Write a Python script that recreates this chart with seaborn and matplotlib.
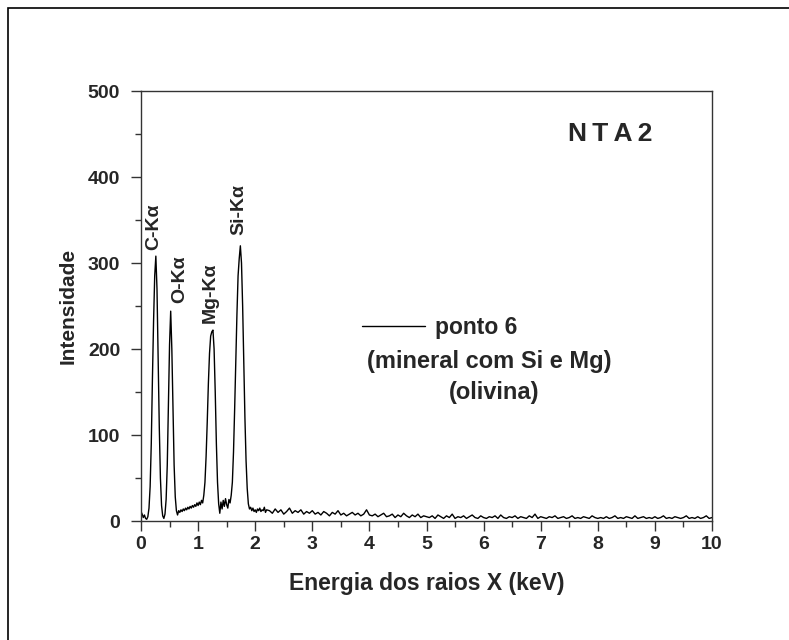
import numpy as np
import pandas as pd
import matplotlib
matplotlib.use("Agg")
import matplotlib.pyplot as plt
import seaborn as sns
from matplotlib.ticker import MultipleLocator
from matplotlib.patches import Rectangle

# ---------------- data ----------------
energy_low = [
    0.00, 0.02, 0.04, 0.06, 0.08, 0.10, 0.12, 0.14, 0.16, 0.18,
    0.20, 0.22, 0.24, 0.26, 0.28, 0.30, 0.32, 0.34, 0.36, 0.38,
    0.40, 0.42, 0.44, 0.46, 0.48, 0.50, 0.52, 0.54, 0.56, 0.58,
    0.60, 0.62, 0.64, 0.66, 0.68, 0.70, 0.72, 0.74, 0.76, 0.78,
    0.80, 0.82, 0.84, 0.86, 0.88, 0.90, 0.92, 0.94, 0.96, 0.98,
    1.00, 1.02, 1.04, 1.06, 1.08, 1.10, 1.12, 1.14, 1.16, 1.18,
    1.20, 1.22, 1.24, 1.26, 1.28, 1.30, 1.32, 1.34, 1.36, 1.38,
    1.40, 1.42, 1.44, 1.46, 1.48, 1.50, 1.52, 1.54, 1.56, 1.58,
    1.60, 1.62, 1.64, 1.66, 1.68, 1.70, 1.72, 1.74, 1.76, 1.78,
    1.80, 1.82, 1.84, 1.86, 1.88, 1.90, 1.92, 1.94, 1.96, 1.98,
    2.00, 2.02, 2.04, 2.06, 2.08, 2.10, 2.12, 2.14, 2.16, 2.18,
    2.20,
]
intensity_low = [
    11, 8, 4, 7, 3, 2, 5, 15, 40, 90,
    165, 232, 285, 308, 270, 190, 110, 50, 18, 6,
    3, 8, 25, 65, 135, 205, 244, 200, 130, 65,
    28, 12, 7, 12, 10, 13, 11, 14, 12, 15,
    13, 16, 14, 17, 15, 18, 16, 19, 17, 21,
    18, 22, 19, 24, 21, 30, 45, 75, 115, 160,
    195, 215, 220, 222, 200, 150, 90, 45, 20, 9,
    22, 14, 24, 17, 26, 19, 15, 25, 21, 30,
    45, 80, 130, 185, 240, 285, 305, 320, 300, 250,
    185, 120, 70, 38, 20, 14, 16, 12, 15, 11,
    13, 10, 14, 12, 15, 11, 13, 12, 16, 10,
    13,
]
energy_high = [
    2.25, 2.30, 2.35, 2.40, 2.45, 2.50, 2.55, 2.60, 2.65, 2.70, 2.75, 2.80, 2.85, 2.90, 2.95, 3.00,
    3.05, 3.10, 3.15, 3.20, 3.25, 3.30, 3.35, 3.40, 3.45, 3.50, 3.55, 3.60, 3.65, 3.70, 3.75, 3.80, 3.85, 3.90, 3.95, 4.00,
    4.05, 4.10, 4.15, 4.20, 4.25, 4.30, 4.35, 4.40, 4.45, 4.50, 4.55, 4.60, 4.65, 4.70, 4.75, 4.80, 4.85, 4.90, 4.95, 5.00,
    5.05, 5.10, 5.15, 5.20, 5.25, 5.30, 5.35, 5.40, 5.45, 5.50, 5.55, 5.60, 5.65, 5.70, 5.75, 5.80, 5.85, 5.90, 5.95, 6.00,
    6.05, 6.10, 6.15, 6.20, 6.25, 6.30, 6.35, 6.40, 6.45, 6.50, 6.55, 6.60, 6.65, 6.70, 6.75, 6.80, 6.85, 6.90, 6.95, 7.00,
    7.05, 7.10, 7.15, 7.20, 7.25, 7.30, 7.35, 7.40, 7.45, 7.50, 7.55, 7.60, 7.65, 7.70, 7.75, 7.80, 7.85, 7.90, 7.95, 8.00,
    8.05, 8.10, 8.15, 8.20, 8.25, 8.30, 8.35, 8.40, 8.45, 8.50, 8.55, 8.60, 8.65, 8.70, 8.75, 8.80, 8.85, 8.90, 8.95, 9.00,
    9.05, 9.10, 9.15, 9.20, 9.25, 9.30, 9.35, 9.40, 9.45, 9.50, 9.55, 9.60, 9.65, 9.70, 9.75, 9.80, 9.85, 9.90, 9.95, 10.00,
]
intensity_high = [
    12, 9, 14, 10, 13, 8, 11, 15, 9, 12, 10, 13, 8, 11, 9, 12,
    8, 10, 7, 11, 9, 6, 10, 8, 12, 7, 9, 6, 8, 10, 7, 9, 6, 8, 13, 7,
    6, 8, 5, 7, 9, 5, 6, 8, 4, 7, 5, 9, 6, 4, 7, 5, 8, 4, 6, 5,
    4, 6, 3, 7, 5, 3, 6, 4, 8, 3, 5, 4, 6, 3, 5, 7, 4, 3, 6, 4,
    3, 5, 4, 6, 3, 7, 4, 3, 5, 4, 6, 3, 5, 4, 3, 6, 4, 8, 3, 5,
    4, 3, 5, 4, 6, 3, 4, 5, 3, 4, 6, 3, 4, 3, 5, 4, 3, 6, 4, 3,
    4, 3, 5, 3, 4, 6, 3, 4, 3, 5, 4, 3, 6, 3, 4, 5, 3, 4, 3, 5,
    3, 4, 6, 3, 4, 3, 5, 4, 3, 4, 6, 3, 4, 3, 5, 3, 4, 6, 3, 4,
]

peak_labels = ["C-K\u03b1", "O-K\u03b1", "Mg-K\u03b1", "Si-K\u03b1"]
peak_label_x = [0.22, 0.67, 1.22, 1.72]
peak_label_y = [315, 253, 230, 333]

x_ticks = [0, 1, 2, 3, 4, 5, 6, 7, 8, 9, 10]
y_ticks = [0, 100, 200, 300, 400, 500]

series_name = "ponto 6"
sample_title = "N\u2009T\u2009A\u20092"
x_label = "Energia dos raios X (keV)"
y_label = "Intensidade"

# ---------------- plot ----------------
sns.set_style("ticks")
plt.rcParams["font.family"] = ["Liberation Sans", "DejaVu Sans"]
plt.rcParams["font.weight"] = "bold"

df = pd.DataFrame({"Energia": energy_low + energy_high,
                   "Intensidade": intensity_low + intensity_high})

fig = plt.figure(figsize=(7.89, 6.4), dpi=100)
ax = fig.add_axes([141 / 789, 1 - 521 / 640, 571 / 789, 430 / 640])

sns.lineplot(data=df, x="Energia", y="Intensidade", estimator=None,
             color="black", linewidth=1.0, ax=ax, label=series_name)

ax.set_xlim(0, 10)
ax.set_ylim(0, 500)
ax.set_xticks(x_ticks)
ax.set_yticks(y_ticks)
ax.xaxis.set_minor_locator(MultipleLocator(0.5))
ax.yaxis.set_minor_locator(MultipleLocator(50))
ax.tick_params(which="major", direction="out", length=7, width=1,
               labelsize=14, color="#333333")
ax.tick_params(axis="y", which="major", pad=8)
ax.tick_params(which="minor", direction="out", length=4, width=1,
               color="#333333")
for lab in ax.get_xticklabels() + ax.get_yticklabels():
    lab.set_fontweight("bold")
for sp in ax.spines.values():
    sp.set_visible(True)
    sp.set_color("#333333")
    sp.set_linewidth(1.0)

ax.set_xlabel(x_label, fontsize=16.5, fontweight="bold", labelpad=14)
ax.set_ylabel(y_label, fontsize=15, fontweight="bold", labelpad=7)

for t, xx, yy in zip(peak_labels, peak_label_x, peak_label_y):
    ax.text(xx, yy, t, rotation=90, ha="center", va="bottom",
            fontsize=14, fontweight="bold")

ax.text(0.821, 0.90, sample_title, transform=ax.transAxes, ha="center",
        va="center", fontsize=19, fontweight="bold")

leg = ax.legend(loc="center left", bbox_to_anchor=(0.387, 0.449),
                frameon=False, fontsize=16.5, handlelength=2.75,
                handletextpad=0.45, borderpad=0, borderaxespad=0)
for t in leg.get_texts():
    t.set_fontweight("bold")

ax.text(0.610, 0.372, "(mineral com Si e Mg)", transform=ax.transAxes,
        ha="center", va="center", fontsize=17, fontweight="bold")
ax.text(0.618, 0.300, "(olivina)", transform=ax.transAxes,
        ha="center", va="center", fontsize=17, fontweight="bold")

# outer frame (only top and left edges fall inside the image)
fig.patches.append(Rectangle((8 / 789, -0.1), 1.2, 1 - 8 / 640 + 0.1,
                             transform=fig.transFigure, fill=False,
                             edgecolor="black", linewidth=1.2))

fig.savefig("out.png", dpi=100)
